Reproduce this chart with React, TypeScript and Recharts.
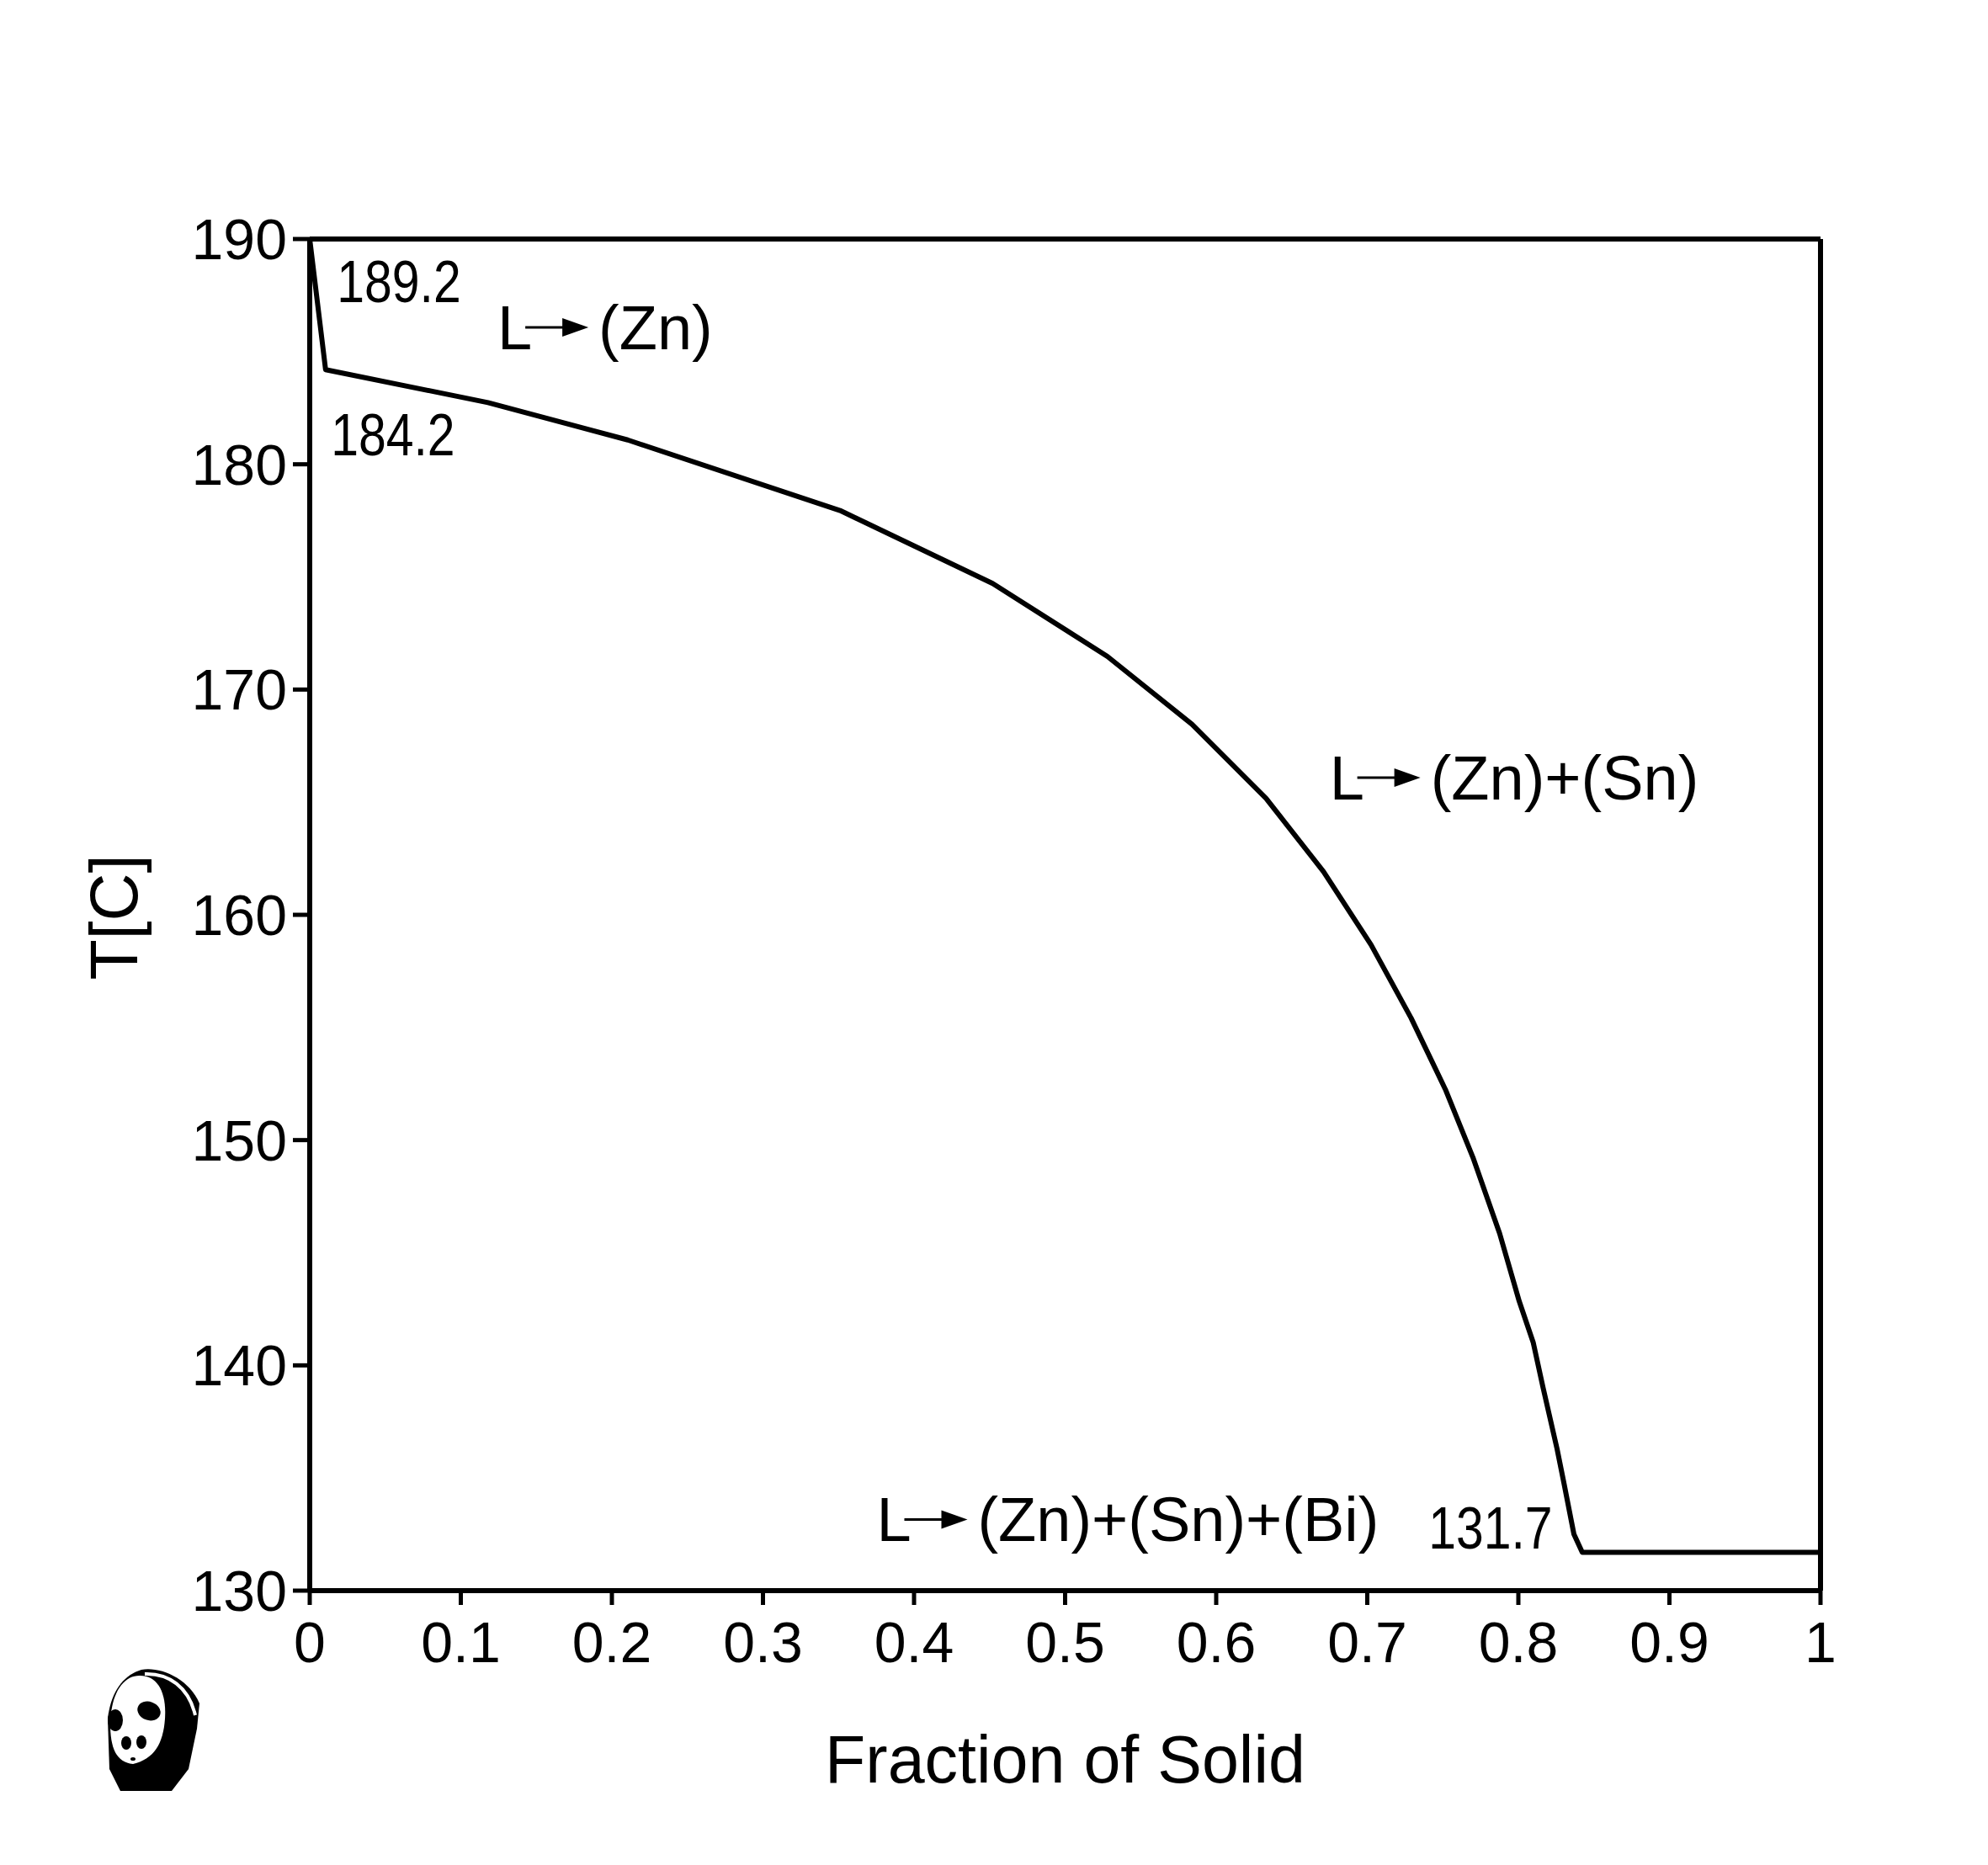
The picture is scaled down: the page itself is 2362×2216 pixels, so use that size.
import React from 'react';
import {
  LineChart,
  Line,
  XAxis,
  YAxis,
  ReferenceLine,
  ReferenceDot,
  Label,
} from 'recharts';

// solidification path
const fraction = [0, 0.0105, 0.118, 0.2105, 0.351, 0.452, 0.528, 0.584, 0.633, 0.671, 0.7025, 0.729,
  0.7517, 0.7699, 0.7876, 0.8006, 0.8099, 0.8164, 0.8256, 0.8303, 0.8368, 0.8423, 1];
const temperature = [190, 184.2, 182.74, 181.08, 177.95, 174.71, 171.47, 168.46, 165.17, 161.92, 158.67, 155.42,
  152.25, 149.24, 145.86, 142.84, 141.0, 139.0, 136.3, 134.73, 132.5, 131.7, 131.7];

const xTicks = [0, 0.1, 0.2, 0.3, 0.4, 0.5, 0.6, 0.7, 0.8, 0.9, 1];
const yTicks = [130, 140, 150, 160, 170, 180, 190];

// temperature notes (narrow font)
const noteText = ['189.2', '184.2', '131.7'];
const noteX = [0.018, 0.014, 0.7405];
const noteT = [187.2, 180.4, 131.88];

// reaction labels "L -> ..."
const reactionProducts = ['(Zn)', '(Zn)+(Sn)', '(Zn)+(Sn)+(Bi)'];
const reactionX = [0.1243, 0.675, 0.3752];
const reactionT = [185.11, 165.12, 132.19];

const FONT = '"Liberation Sans", Arial, Helvetica, sans-serif';

const data = fraction.map((x, i) => ({ x, t: temperature[i] }));

const Note = ({ cx, cy, text }: any) => (
  <text
    transform={`translate(${cx},${cy}) scale(0.83,1)`}
    x={0}
    y={0}
    fontFamily={FONT}
    fontSize={71}
    fill="#000"
  >
    {text}
  </text>
);

const Reaction = ({ cx, cy, text }: any) => {
  const mid = cy - 26;
  return (
    <g>
      <text x={cx} y={cy} fontFamily={FONT} fontSize={74} fill="#000">L</text>
      <line x1={cx + 33} y1={mid} x2={cx + 80} y2={mid} stroke="#000" strokeWidth={3} />
      <polygon points={`${cx + 77},${mid - 11} ${cx + 108},${mid} ${cx + 77},${mid + 11}`} fill="#000" />
      <text x={cx + 120} y={cy} fontFamily={FONT} fontSize={74} fill="#000">{text}</text>
    </g>
  );
};

const XTitle = (props: any) => {
  const vb = props.viewBox;
  return (
    <text x={vb.x + vb.width / 2} y={vb.y + 228} textAnchor="middle" fontFamily={FONT} fontSize={79} fill="#000">
      Fraction of Solid
    </text>
  );
};

const YTitle = (props: any) => {
  const vb = props.viewBox;
  const cy = vb.y + vb.height / 2 + 3;
  return (
    <text
      x={155}
      y={cy}
      transform={`rotate(-90, 155, ${cy})`}
      textAnchor="middle"
      fontFamily={FONT}
      fontSize={79}
      fill="#000"
    >
      T[C]
    </text>
  );
};

const Panda = () => (
  <svg
    width={112}
    height={148}
    viewBox="0 0 112 148"
    style={{ position: 'absolute', left: 120, top: 1974 }}
  >
    <path d="M 40 2 C 62 -2 96 12 109 42 L 106 72 L 96 120 L 76 146 L 15 146 L 2 120 L 0 60 C 4 26 20 8 40 2 Z" fill="#000" />
    <path d="M 38 9 C 60 9 70 30 68 60 C 66 90 55 108 30 114 C 10 112 3 95 3 66 C 4 30 18 9 38 9 Z" fill="#fff" />
    <path d="M 44 7 C 72 6 96 22 104 56" fill="none" stroke="#fff" strokeWidth={4} />
    <ellipse cx={49} cy={51} rx={14} ry={11} transform="rotate(20 49 51)" fill="#000" />
    <ellipse cx={9} cy={62} rx={9} ry={13} fill="#000" />
    <ellipse cx={22} cy={89} rx={6} ry={8} fill="#000" />
    <ellipse cx={40} cy={88} rx={6} ry={8} fill="#000" />
    <ellipse cx={30} cy={108} rx={3} ry={2} fill="#000" />
  </svg>
);

export default function App() {
  const axisLine = { stroke: '#000', strokeWidth: 6 };
  const tickLine = { stroke: '#000', strokeWidth: 5 };
  const tick = { fill: '#000', fontSize: 68, fontFamily: FONT };
  return (
    <div style={{ position: 'relative', width: 2346, height: 2200, background: '#fff' }}>
      <LineChart
        width={2346}
        height={2200}
        data={data}
        margin={{ top: 276, right: 191, bottom: 0, left: 0 }}
      >
        <XAxis
          dataKey="x"
          type="number"
          domain={[0, 1]}
          ticks={xTicks}
          interval={0}
          height={318}
          tickSize={17}
          tickMargin={20}
          axisLine={axisLine}
          tickLine={tickLine}
          tick={tick}
        >
          <Label content={XTitle} />
        </XAxis>
        <YAxis
          type="number"
          domain={[130, 190]}
          ticks={yTicks}
          interval={0}
          width={360}
          tickSize={20}
          tickMargin={7}
          axisLine={axisLine}
          tickLine={tickLine}
          tick={tick}
        >
          <Label content={YTitle} />
        </YAxis>
        <ReferenceLine y={190} stroke="#000" strokeWidth={6} />
        <ReferenceLine x={1} stroke="#000" strokeWidth={6} />
        <Line
          type="linear"
          dataKey="t"
          stroke="#000"
          strokeWidth={6}
          strokeLinejoin="round"
          dot={false}
          activeDot={false}
          isAnimationActive={false}
        />
        {noteText.map((text, i) => (
          <ReferenceDot
            key={text}
            x={noteX[i]}
            y={noteT[i]}
            r={0}
            shape={(p: any) => <Note cx={p.cx} cy={p.cy} text={text} />}
          />
        ))}
        {reactionProducts.map((text, i) => (
          <ReferenceDot
            key={text}
            x={reactionX[i]}
            y={reactionT[i]}
            r={0}
            shape={(p: any) => <Reaction cx={p.cx} cy={p.cy} text={text} />}
          />
        ))}
      </LineChart>
      <Panda />
    </div>
  );
}
